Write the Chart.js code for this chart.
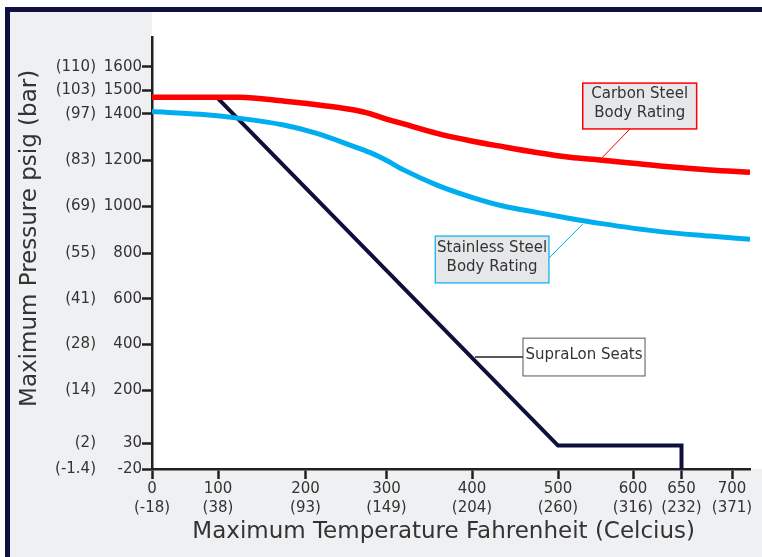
<!DOCTYPE html>
<html>
<head>
<meta charset="utf-8">
<title>Pressure / Temperature Rating</title>
<script src="https://cdn.jsdelivr.net/npm/chart.js@4.4.1/dist/chart.umd.min.js"></script>
<style>
  html, body { margin: 0; padding: 0; background: #fff; }
  canvas { display: block; }
</style>
</head>
<body>
<canvas id="ratingChart" width="762" height="557"></canvas>
<script>
// tick labels as printed on the sheet (F with C below, psig with bar beside)
const tempTicks = [0, 100, 200, 300, 400, 500, 600, 650, 700];
const tempTicksC = ['(-18)', '(38)', '(93)', '(149)', '(204)', '(260)', '(316)', '(232)', '(371)'];
const psiTicks = [-20, 30, 200, 400, 600, 800, 1000, 1200, 1400, 1500, 1600];
const barTicks = ['(-1.4)', '(2)', '(14)', '(28)', '(41)', '(55)', '(69)', '(83)', '(97)', '(103)', '(110)'];

// Carbon steel body rating
const carbonTemp = [0, 125, 175, 234, 276, 298, 320, 359, 398, 436, 475, 516, 556, 628, 678, 718];
const carbonPsi = [1470, 1470, 1454, 1430, 1405, 1380, 1357, 1316, 1284, 1258, 1233, 1212, 1200, 1174, 1157, 1147];

// Stainless steel body rating
const stainlessTemp = [0, 73, 125, 175, 214, 255, 280, 298, 320, 359, 398, 436, 475, 516, 556, 628, 678, 718];
const stainlessPsi = [1410, 1399, 1381, 1352, 1316, 1265, 1232, 1202, 1157, 1091, 1040, 1000, 973, 947, 926, 891, 872, 858];

// SupraLon seats
const seatTemp = [98, 500, 650, 650];
const seatPsi = [1470, 25, 25, -20];

// the printed axes are not evenly spaced: where each stop sits along its axis (px from axis start)
const tempStops = [0, 100, 200, 300, 400, 500, 600, 650, 700, 718];
const tempStopPos = [0, 66, 153.5, 234.5, 320, 406, 481, 529.5, 580, 598];
const psiStops = [-20, 30, 200, 400, 600, 800, 1000, 1200, 1400, 1500, 1600, 1730];
const psiStopPos = [0, 26, 79, 125, 170, 216, 263, 309, 355, 379, 402, 432];

// callout boxes, in chart values: box = [left, right, top, bottom]
const notes = [
    { lines: ['Carbon Steel', 'Body Rating'], box: [533, 665, 1530, 1335], from: [596, 1335], to: [557, 1204],
      edge: '#ff0000', edgeWidth: 1.5, fill: '#e6e7e9', lead: '#ff0000', leadWidth: 1 },
    { lines: ['Stainless Steel', 'Body Rating'], box: [357, 489.5, 872, 670], from: [489.5, 778], to: [533, 923],
      edge: '#00aeef', edgeWidth: 1.2, fill: '#e6e7e9', lead: '#00aeef', leadWidth: 1 },
    { lines: ['SupraLon Seats'], box: [459.3, 612.4, 426, 261], from: [403.5, 343.5], to: [459.3, 343.5],
      edge: '#555555', edgeWidth: 1, fill: '#ffffff', lead: '#231f20', leadWidth: 1.5 }
];

function toPoints(xs, ys) {
    return xs.map((v, i) => ({ x: v, y: ys[i] }));
}

class WarpScale extends Chart.LinearScale {
    static id = 'warp';

    stops() {
        return this.axis === 'x' ? [tempStops, tempStopPos] : [psiStops, psiStopPos];
    }

    getPixelForValue(value) {
        if (value === null || value === undefined || isNaN(value)) return NaN;
        const [vals, pos] = this.stops();
        let i = 0;
        while (i < vals.length - 2 && value > vals[i + 1]) i++;
        const p = pos[i] + (value - vals[i]) / (vals[i + 1] - vals[i]) * (pos[i + 1] - pos[i]);
        return this.getPixelForDecimal(p / pos[pos.length - 1]);
    }

    getValueForPixel(pixel) {
        const [vals, pos] = this.stops();
        const p = this.getDecimalForPixel(pixel) * pos[pos.length - 1];
        let i = 0;
        while (i < pos.length - 2 && p > pos[i + 1]) i++;
        return vals[i] + (p - pos[i]) / (pos[i + 1] - pos[i]) * (vals[i + 1] - vals[i]);
    }
}
Chart.register(WarpScale);

const sheetBackground = {
    id: 'sheetBackground',
    beforeDraw(chart) {
        const { ctx, chartArea: a, width, height } = chart;
        ctx.save();
        ctx.fillStyle = '#ffffff';
        ctx.fillRect(0, 0, width, height);
        ctx.fillStyle = '#eff0f2';
        ctx.fillRect(10, 12, width - 10, height - 12);
        ctx.fillStyle = '#ffffff';
        ctx.fillRect(a.left, 12, width - a.left, a.bottom - 12);
        ctx.fillStyle = '#10113f';
        ctx.fillRect(5, 7, width - 5, 5);
        ctx.fillRect(5, 7, 5, height - 7);
        ctx.restore();
    }
};

const callouts = {
    id: 'callouts',
    afterDatasetsDraw(chart) {
        const { ctx, scales: { x, y } } = chart;
        ctx.save();
        notes.forEach(n => {
            const l = x.getPixelForValue(n.box[0]);
            const r = x.getPixelForValue(n.box[1]);
            const t = y.getPixelForValue(n.box[2]);
            const b = y.getPixelForValue(n.box[3]);

            ctx.strokeStyle = n.lead;
            ctx.lineWidth = n.leadWidth;
            ctx.beginPath();
            ctx.moveTo(x.getPixelForValue(n.from[0]), y.getPixelForValue(n.from[1]));
            ctx.lineTo(x.getPixelForValue(n.to[0]), y.getPixelForValue(n.to[1]));
            ctx.stroke();

            ctx.fillStyle = n.fill;
            ctx.fillRect(l, t, r - l, b - t);
            ctx.strokeStyle = n.edge;
            ctx.lineWidth = n.edgeWidth;
            ctx.strokeRect(l, t, r - l, b - t);

            ctx.fillStyle = '#333333';
            ctx.font = '15px "DejaVu Sans"';
            ctx.textAlign = 'center';
            ctx.textBaseline = 'middle';
            const cx = (l + r) / 2, cy = (t + b) / 2 - 2;
            n.lines.forEach((s, i) => {
                ctx.fillText(s, cx, cy + (i - (n.lines.length - 1) / 2) * 19);
            });
        });
        ctx.restore();
    }
};

Chart.defaults.font.family = '"DejaVu Sans", sans-serif';
Chart.defaults.color = '#333333';

const axisColor = '#231f20';
const tickFont = { size: 15 };

const ctx = document.getElementById('ratingChart').getContext('2d');
const ratingChart = new Chart(ctx, {
    type: 'line',
    data: {
        datasets: [
            {
                label: 'Carbon Steel Body Rating',
                data: toPoints(carbonTemp, carbonPsi),
                borderColor: '#ff0000',
                borderWidth: 5.5,
                cubicInterpolationMode: 'monotone'
            },
            {
                label: 'Stainless Steel Body Rating',
                data: toPoints(stainlessTemp, stainlessPsi),
                borderColor: '#00aeef',
                borderWidth: 5,
                cubicInterpolationMode: 'monotone'
            },
            {
                label: 'SupraLon Seats',
                data: toPoints(seatTemp, seatPsi),
                borderColor: '#0e0f3a',
                borderWidth: 4,
                borderJoinStyle: 'miter',
                tension: 0
            }
        ]
    },
    options: {
        responsive: false,
        animation: false,
        devicePixelRatio: 1,
        elements: { point: { radius: 0, hoverRadius: 0 } },
        layout: { padding: { top: 37, right: 12, left: 0, bottom: 0 } },
        plugins: {
            legend: { display: false },
            tooltip: { enabled: false }
        },
        scales: {
            x: {
                type: 'warp',
                position: 'bottom',
                min: 0,
                max: 718,
                afterBuildTicks: s => { s.ticks = tempTicks.map(v => ({ value: v })); },
                afterFit: s => { s.height = 88; s.paddingLeft = 0; s.paddingRight = 0; },
                ticks: {
                    autoSkip: false,
                    maxRotation: 0,
                    padding: 0,
                    font: { size: 15, lineHeight: 1.3 },
                    callback: v => [String(v), tempTicksC[tempTicks.indexOf(v)]]
                },
                grid: { drawOnChartArea: false, color: axisColor, tickLength: 10, tickWidth: 2.5 },
                border: { color: axisColor, width: 2.5 },
                title: {
                    display: true,
                    text: 'Maximum Temperature Fahrenheit (Celcius)  ',
                    font: { size: 23 },
                    padding: { top: 0, bottom: 11 }
                }
            },
            y: {
                type: 'warp',
                position: 'left',
                weight: 0,
                min: -20,
                max: 1730,
                afterBuildTicks: s => { s.ticks = psiTicks.map(v => ({ value: v })); },
                afterFit: s => { s.width = 54; s.paddingTop = 0; s.paddingBottom = 0; },
                ticks: { autoSkip: false, padding: 0, font: tickFont, callback: v => String(v) },
                grid: { drawOnChartArea: false, color: axisColor, tickLength: 10, tickWidth: 2.5 },
                border: { color: axisColor, width: 2.5 }
            },
            yBar: {
                type: 'warp',
                axis: 'y',
                position: 'left',
                weight: 1,
                min: -20,
                max: 1730,
                afterBuildTicks: s => { s.ticks = psiTicks.map(v => ({ value: v })); },
                afterFit: s => { s.width = 98; s.paddingTop = 0; s.paddingBottom = 0; },
                ticks: { autoSkip: false, padding: 2, font: tickFont, callback: v => barTicks[psiTicks.indexOf(v)] },
                grid: { display: false, drawTicks: false },
                border: { display: false },
                title: {
                    display: true,
                    // leading spaces nudge the rotated title up to where the sheet has it
                    text: '    Maximum Pressure psig (bar)',
                    font: { size: 23 },
                    padding: { top: 16, bottom: 0 }
                }
            }
        }
    },
    plugins: [sheetBackground, callouts]
});
</script>
</body>
</html>
